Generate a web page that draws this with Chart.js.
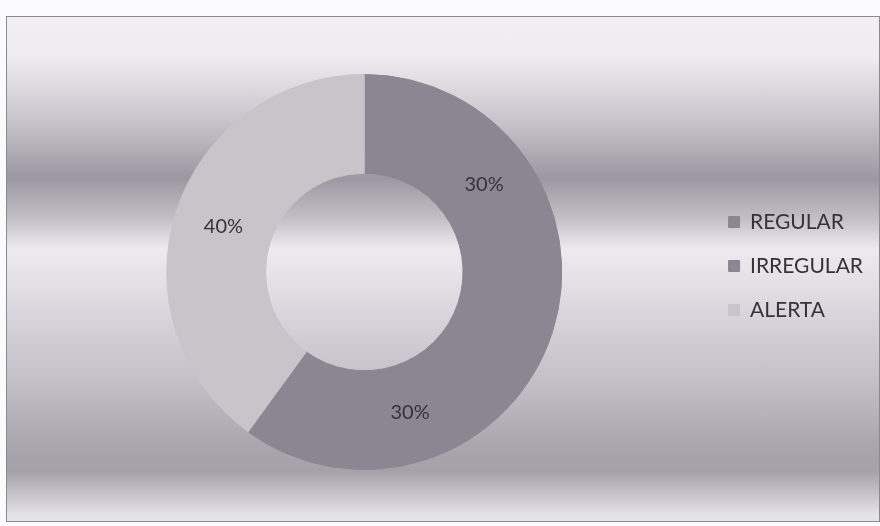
<!DOCTYPE html>
<html>
<head>
<meta charset="utf-8">
<script src="https://cdn.jsdelivr.net/npm/chart.js@4.4.1/dist/chart.umd.min.js"></script>
<style>
  body { margin: 0; background: #fbfafc; }
  #frame {
    position: absolute; left: 6px; top: 16px; width: 872px; height: 504px;
    border: 1px solid #8c8a90;
    background: linear-gradient(to bottom,
      #f1eff3 0%, #eeecf0 8%, #c9c6cd 20%, #9b98a1 32%, #c2bfc6 40%,
      #eceaef 46%, #e4e2e7 52%, #d6d4da 60%, #c3c0c7 72%, #a9a6ae 85%,
      #a4a1a9 90%, #c8c6cc 95%, #e6e4e9 99%);
  }
</style>
</head>
<body>
<div id="frame"><canvas id="donutChart" width="872" height="504"></canvas></div>
<script>
const labels = ['REGULAR', 'IRREGULAR', 'ALERTA'];
const values = [30, 30, 40];
const colors = ['#8b8691', '#8b8691', '#c7c4ca'];

// draws the percentage inside each ring segment
const percentLabels = {
  id: 'percentLabels',
  afterDatasetsDraw(chart) {
    const ctx = chart.ctx;
    const meta = chart.getDatasetMeta(0);
    ctx.save();
    ctx.fillStyle = '#35333a';
    ctx.font = '20px Lato';
    ctx.textAlign = 'center';
    ctx.textBaseline = 'middle';
    meta.data.forEach((arc, i) => {
      const p = arc.tooltipPosition();
      ctx.fillText(values[i] + '%', p.x, p.y);
    });
    ctx.restore();
  }
};

// legend sits a little above the ring centre in the original
const liftLegend = {
  id: 'liftLegend',
  afterLayout(chart) {
    chart.legend.top -= 6;
    chart.legend.bottom -= 6;
  }
};

const ctx = document.getElementById('donutChart').getContext('2d');

new Chart(ctx, {
  type: 'doughnut',
  data: {
    labels: labels,
    datasets: [{
      data: values,
      backgroundColor: colors,
      borderColor: colors,
      borderWidth: 1
    }]
  },
  options: {
    responsive: false,
    animation: false,
    cutout: '50%',
    layout: { padding: { left: 16, right: 6, top: 57, bottom: 51 } },
    plugins: {
      legend: {
        position: 'right',
        labels: {
          boxWidth: 11,
          boxHeight: 11,
          padding: 23,
          color: '#35333a',
          font: { family: 'Lato', size: 21 }
        }
      },
      tooltip: { enabled: false }
    }
  },
  plugins: [percentLabels, liftLegend]
});
</script>
</body>
</html>
